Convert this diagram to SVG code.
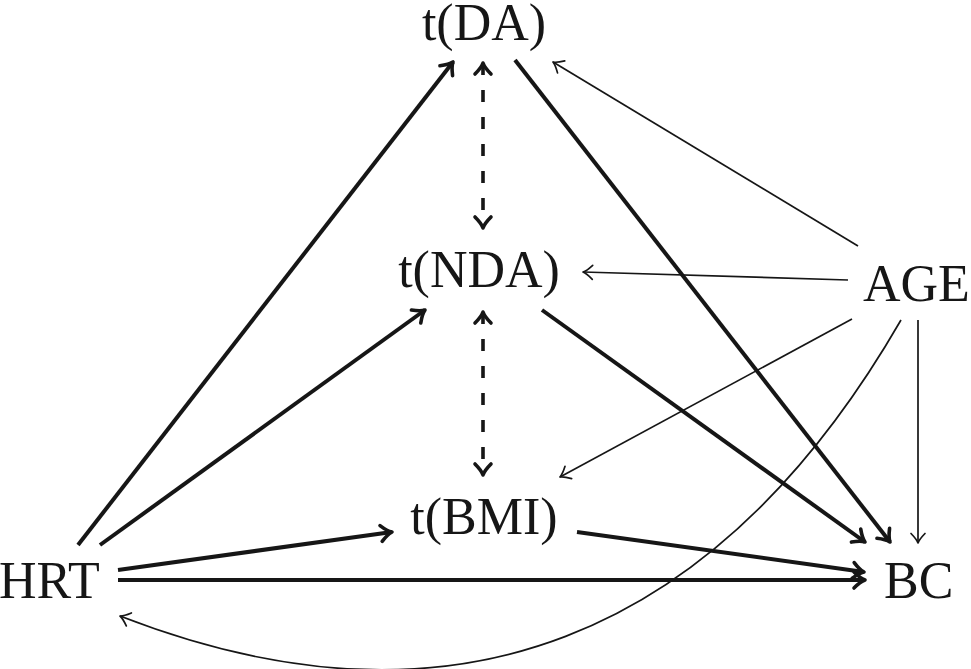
<svg xmlns="http://www.w3.org/2000/svg" width="971" height="669" viewBox="0 0 971 669">
<style>
  .lbl { font-family: "Liberation Serif", "Times New Roman", serif; font-size: 52px; fill: #161616; }
  .thick { fill: none; stroke: #161616; stroke-width: 4; }
  .thin { fill: none; stroke: #161616; stroke-width: 1.7; }
  .dash { fill: none; stroke: #161616; stroke-width: 3.6; stroke-dasharray: 12 15; }
</style>
<defs>
  <marker id="ah" markerUnits="userSpaceOnUse" viewBox="-14 -10 16 20" refX="0" refY="0" markerWidth="16" markerHeight="20" orient="auto-start-reverse" overflow="visible">
    <path d="M-11,-8 Q-4.5,-1.5 0,0 Q-4.5,1.5 -11,8" fill="none" stroke="#161616" stroke-width="3.6" stroke-linecap="round" stroke-linejoin="round"/>
  </marker>
  <marker id="at" markerUnits="userSpaceOnUse" viewBox="-12 -8 14 16" refX="0" refY="0" markerWidth="14" markerHeight="16" orient="auto-start-reverse" overflow="visible">
    <path d="M-9.5,-7 Q-3.5,-1.2 0,0 Q-3.5,1.2 -9.5,7" fill="none" stroke="#161616" stroke-width="1.7" stroke-linecap="round" stroke-linejoin="round"/>
  </marker>
</defs>
<rect width="971" height="669" fill="#ffffff"/>
<g id="connectors">
  <line class="thick" x1="78" y1="545" x2="453" y2="62" marker-end="url(#ah)"/>
  <line class="thick" x1="100" y1="545" x2="425" y2="310" marker-end="url(#ah)"/>
  <line class="thick" x1="118" y1="570" x2="392" y2="532" marker-end="url(#ah)"/>
  <line class="thick" x1="118" y1="580" x2="865" y2="580" marker-end="url(#ah)"/>
  <line class="thick" x1="515" y1="60" x2="890" y2="542" marker-end="url(#ah)"/>
  <line class="thick" x1="542" y1="310" x2="865" y2="542" marker-end="url(#ah)"/>
  <line class="thick" x1="577" y1="532" x2="864" y2="572" marker-end="url(#ah)"/>
  <line class="dash" x1="483" y1="63" x2="483" y2="228" marker-start="url(#ah)" marker-end="url(#ah)"/>
  <line class="dash" x1="483" y1="312" x2="483" y2="475" marker-start="url(#ah)" marker-end="url(#ah)"/>
  <line class="thin" x1="858" y1="246" x2="553" y2="62" marker-end="url(#at)"/>
  <line class="thin" x1="848" y1="280" x2="583" y2="272" marker-end="url(#at)"/>
  <line class="thin" x1="852" y1="319" x2="560" y2="477" marker-end="url(#at)"/>
  <line class="thin" x1="918" y1="320" x2="918" y2="543" marker-end="url(#at)"/>
  <path class="thin" d="M901,320 C716,640 452,745 120,616" marker-end="url(#at)"/>
</g>
<g id="node-tDA"><text class="lbl" x="484" y="40" text-anchor="middle">t(DA)</text></g>
<g id="node-tNDA"><text class="lbl" x="479" y="287" text-anchor="middle">t(NDA)</text></g>
<g id="node-tBMI"><text class="lbl" x="484" y="534" text-anchor="middle">t(BMI)</text></g>
<g id="node-AGE"><text class="lbl" x="863" y="301">AGE</text></g>
<g id="node-HRT"><text class="lbl" x="-1" y="598">HRT</text></g>
<g id="node-BC"><text class="lbl" x="884" y="598">BC</text></g>
</svg>
